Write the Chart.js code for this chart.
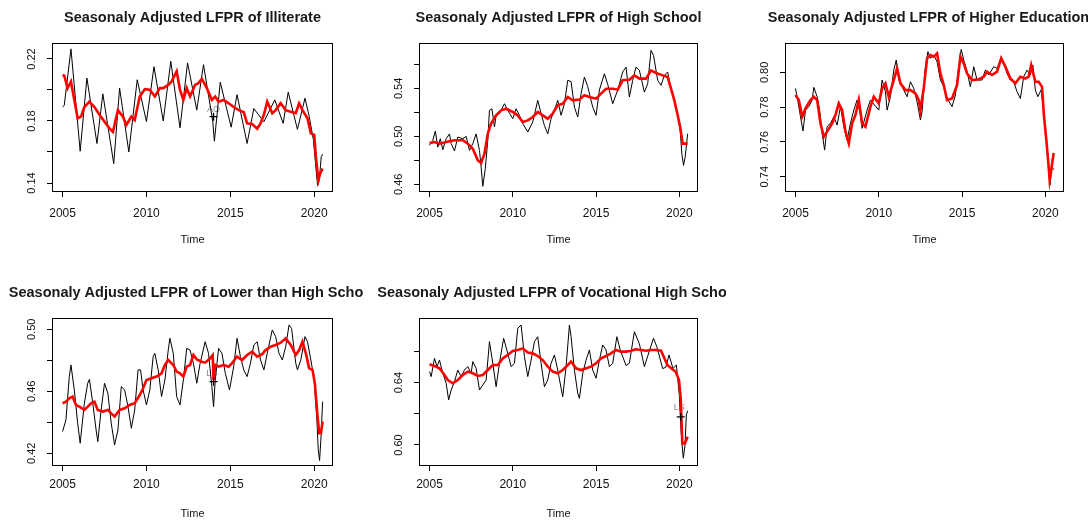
<!DOCTYPE html>
<html>
<head>
<meta charset="utf-8">
<script src="https://cdn.jsdelivr.net/npm/chart.js@4.4.0/dist/chart.umd.min.js"></script>
<style>
  html, body { margin: 0; padding: 0; background: #fff; }
  body { width: 1088px; height: 522px; position: relative; overflow: hidden; }
  .cell { position: absolute; overflow: hidden; }
</style>
</head>
<body>
<div class="cell" style="left:0;top:0;width:363px;height:261px"><canvas id="c1" width="363" height="261"></canvas></div>
<div class="cell" style="left:363px;top:0;width:363px;height:261px"><canvas id="c2" width="363" height="261"></canvas></div>
<div class="cell" style="left:726px;top:0;width:362px;height:261px"><canvas id="c3" width="362" height="261"></canvas></div>
<div class="cell" style="left:0;top:261px;width:363px;height:261px"><canvas id="c4" width="363" height="261"></canvas></div>
<div class="cell" style="left:363px;top:261px;width:363px;height:261px"><canvas id="c5" width="363" height="261"></canvas></div>

<script>
// ---- data: [time, value] ----
const yearTicks = [2005, 2010, 2015, 2020];

// Illiterate
const illitRaw = [[2005.0,0.189],[2005.1,0.190],[2005.5,0.2265],[2006.05,0.1605],[2006.45,0.2077],[2007.05,0.1655],[2007.4,0.1975],[2008.05,0.1525],[2008.4,0.2012],[2008.95,0.160],[2009.45,0.2066],[2010.0,0.1796],[2010.45,0.215],[2011.0,0.180],[2011.45,0.2185],[2012.0,0.1756],[2012.45,0.2175],[2013.0,0.187],[2013.4,0.2163],[2013.95,0.180],[2014.05,0.167],[2014.4,0.205],[2015.05,0.176],[2015.4,0.197],[2016.0,0.1655],[2016.4,0.188],[2017.0,0.1795],[2017.65,0.1936],[2018.15,0.1785],[2018.45,0.1986],[2019.0,0.1746],[2019.45,0.1947],[2019.7,0.183],[2019.95,0.168],[2020.1,0.150],[2020.2,0.1385],[2020.3,0.1417],[2020.42,0.157],[2020.5,0.1586]];
const illitAdj = [[2005.0,0.2098],[2005.1,0.2092],[2005.3,0.2012],[2005.5,0.2055],[2005.7,0.1936],[2005.9,0.1817],[2006.1,0.1828],[2006.3,0.189],[2006.6,0.1925],[2006.9,0.189],[2007.2,0.184],[2007.5,0.1796],[2007.8,0.1752],[2008.0,0.173],[2008.3,0.187],[2008.6,0.1828],[2008.8,0.1774],[2009.1,0.1828],[2009.3,0.1806],[2009.6,0.1958],[2009.9,0.2005],[2010.2,0.2001],[2010.5,0.1958],[2010.8,0.2012],[2011.0,0.2012],[2011.3,0.2033],[2011.5,0.2055],[2011.8,0.212],[2012.0,0.2001],[2012.2,0.1936],[2012.4,0.2012],[2012.6,0.1958],[2012.9,0.2033],[2013.1,0.2044],[2013.3,0.2072],[2013.6,0.2012],[2013.9,0.1936],[2014.1,0.1958],[2014.3,0.1925],[2014.6,0.1936],[2014.9,0.1914],[2015.2,0.189],[2015.5,0.187],[2015.8,0.1857],[2016.0,0.1785],[2016.3,0.178],[2016.6,0.175],[2016.8,0.1785],[2017.0,0.184],[2017.2,0.1925],[2017.5,0.185],[2017.7,0.187],[2018.0,0.1914],[2018.3,0.187],[2018.6,0.186],[2018.9,0.185],[2019.1,0.1914],[2019.3,0.187],[2019.6,0.1817],[2019.8,0.172],[2020.0,0.171],[2020.1,0.157],[2020.25,0.1417],[2020.35,0.146],[2020.5,0.1493]];
const illitYTicks = [0.14, 0.16, 0.18, 0.20, 0.22];
const illitYLabels = [0.14, 0.18, 0.22];
const illitOutlier = [[2014.0, 0.1828]];

// High School
const hsRaw = [[2005.0,0.4925],[2005.2,0.4967],[2005.35,0.5044],[2005.5,0.491],[2005.65,0.498],[2005.8,0.4889],[2006.0,0.498],[2006.2,0.502],[2006.3,0.494],[2006.5,0.4878],[2006.7,0.4994],[2007.0,0.498],[2007.2,0.500],[2007.4,0.4883],[2007.6,0.494],[2007.8,0.502],[2008.0,0.4883],[2008.1,0.4744],[2008.2,0.4583],[2008.35,0.473],[2008.5,0.4967],[2008.6,0.5217],[2008.75,0.523],[2008.9,0.5078],[2009.0,0.5175],[2009.2,0.519],[2009.5,0.5272],[2009.7,0.5217],[2010.0,0.5147],[2010.2,0.523],[2010.4,0.5175],[2010.6,0.5106],[2010.9,0.5036],[2011.2,0.512],[2011.5,0.530],[2011.7,0.519],[2011.9,0.509],[2012.1,0.502],[2012.3,0.5147],[2012.5,0.5217],[2012.7,0.530],[2012.9,0.5175],[2013.1,0.5272],[2013.3,0.5467],[2013.5,0.5456],[2013.7,0.5244],[2013.9,0.5161],[2014.1,0.5356],[2014.3,0.5494],[2014.5,0.5414],[2014.8,0.5244],[2015.0,0.5175],[2015.2,0.5386],[2015.5,0.5522],[2015.7,0.5433],[2016.0,0.5272],[2016.3,0.5386],[2016.6,0.5536],[2016.8,0.5578],[2017.0,0.5328],[2017.2,0.5467],[2017.4,0.5578],[2017.6,0.555],[2017.9,0.5369],[2018.1,0.5439],[2018.3,0.5717],[2018.45,0.5675],[2018.7,0.5467],[2018.9,0.5425],[2019.1,0.5508],[2019.3,0.5536],[2019.5,0.5386],[2019.7,0.530],[2019.9,0.519],[2020.05,0.505],[2020.15,0.4856],[2020.25,0.4758],[2020.35,0.4828],[2020.5,0.5022]];
const hsAdj = [[2005.0,0.4944],[2005.3,0.4953],[2005.6,0.4939],[2006.0,0.4953],[2006.5,0.4967],[2007.0,0.4967],[2007.3,0.4939],[2007.6,0.4897],[2007.9,0.480],[2008.1,0.4778],[2008.3,0.4856],[2008.5,0.5022],[2008.7,0.5106],[2009.0,0.5175],[2009.3,0.5217],[2009.6,0.523],[2010.0,0.5203],[2010.3,0.5175],[2010.6,0.512],[2010.9,0.5133],[2011.2,0.5161],[2011.5,0.5203],[2011.8,0.5175],[2012.1,0.5147],[2012.4,0.519],[2012.7,0.5258],[2013.0,0.5272],[2013.3,0.5328],[2013.6,0.530],[2014.0,0.5306],[2014.3,0.5342],[2014.6,0.5328],[2015.0,0.5314],[2015.3,0.5356],[2015.6,0.5397],[2016.0,0.5397],[2016.3,0.5389],[2016.6,0.5467],[2017.0,0.5472],[2017.3,0.5508],[2017.6,0.5481],[2018.0,0.5481],[2018.3,0.555],[2018.6,0.5528],[2019.0,0.5508],[2019.3,0.5494],[2019.5,0.5397],[2019.7,0.530],[2019.9,0.5175],[2020.05,0.5078],[2020.2,0.4939],[2020.5,0.4939]];
const hsYTicks = [0.46, 0.48, 0.50, 0.52, 0.54, 0.56];
const hsYLabels = [0.46, 0.50, 0.54];

// Higher Education
const heRaw = [[2005.0,0.7908],[2005.15,0.7831],[2005.3,0.7745],[2005.45,0.7663],[2005.6,0.7783],[2005.8,0.7803],[2006.0,0.7841],[2006.1,0.7914],[2006.3,0.786],[2006.45,0.7783],[2006.6,0.7649],[2006.75,0.7553],[2006.9,0.7688],[2007.1,0.7707],[2007.3,0.7745],[2007.5,0.7697],[2007.7,0.7803],[2007.9,0.7688],[2008.1,0.7611],[2008.3,0.7707],[2008.5,0.7783],[2008.7,0.7841],[2008.9,0.7755],[2009.0,0.7678],[2009.3,0.7783],[2009.5,0.7841],[2009.8,0.7806],[2010.0,0.7783],[2010.2,0.7956],[2010.4,0.7889],[2010.5,0.7783],[2010.7,0.786],[2010.9,0.8013],[2011.05,0.8071],[2011.2,0.7956],[2011.5,0.7898],[2011.7,0.786],[2011.9,0.7946],[2012.1,0.7908],[2012.3,0.7831],[2012.5,0.7726],[2012.6,0.7774],[2012.8,0.8033],[2012.95,0.8119],[2013.1,0.8081],[2013.3,0.810],[2013.5,0.8061],[2013.7,0.7956],[2013.9,0.7918],[2014.1,0.785],[2014.4,0.7803],[2014.6,0.787],[2014.8,0.8033],[2014.95,0.8132],[2015.1,0.8071],[2015.3,0.8004],[2015.5,0.7918],[2015.7,0.8033],[2015.9,0.7956],[2016.2,0.7956],[2016.4,0.8013],[2016.6,0.7985],[2016.9,0.8033],[2017.1,0.8023],[2017.35,0.8081],[2017.5,0.8052],[2017.7,0.7994],[2017.9,0.7956],[2018.1,0.7946],[2018.3,0.7889],[2018.5,0.785],[2018.7,0.7975],[2018.9,0.8013],[2019.1,0.7985],[2019.25,0.8042],[2019.4,0.7898],[2019.55,0.786],[2019.75,0.790],[2019.9,0.778],[2020.05,0.762],[2020.17,0.748],[2020.28,0.7352],[2020.38,0.746],[2020.5,0.744]];
const heAdj = [[2005.0,0.787],[2005.2,0.7841],[2005.4,0.7745],[2005.6,0.7793],[2005.9,0.7841],[2006.1,0.786],[2006.3,0.7841],[2006.5,0.7707],[2006.7,0.763],[2006.9,0.7659],[2007.2,0.7707],[2007.4,0.7755],[2007.6,0.7822],[2007.8,0.7783],[2008.0,0.7659],[2008.2,0.7592],[2008.4,0.7707],[2008.6,0.7755],[2008.8,0.7841],[2009.0,0.7707],[2009.2,0.7688],[2009.5,0.7803],[2009.7,0.786],[2010.0,0.7822],[2010.2,0.7908],[2010.4,0.7937],[2010.6,0.786],[2010.9,0.7956],[2011.1,0.8023],[2011.3,0.7937],[2011.6,0.7898],[2011.9,0.7898],[2012.2,0.7879],[2012.4,0.7841],[2012.5,0.7783],[2012.7,0.7908],[2012.9,0.8081],[2013.1,0.810],[2013.3,0.809],[2013.5,0.8109],[2013.7,0.7994],[2013.9,0.7927],[2014.1,0.7841],[2014.4,0.785],[2014.7,0.7927],[2014.9,0.809],[2015.1,0.8052],[2015.3,0.7994],[2015.6,0.7956],[2016.0,0.796],[2016.3,0.7975],[2016.5,0.8004],[2016.8,0.7985],[2017.1,0.8004],[2017.35,0.8081],[2017.6,0.8033],[2017.9,0.7965],[2018.2,0.7937],[2018.5,0.7975],[2018.8,0.7965],[2019.0,0.7975],[2019.15,0.8042],[2019.4,0.7946],[2019.6,0.7946],[2019.8,0.7917],[2019.92,0.7745],[2020.06,0.761],[2020.18,0.748],[2020.26,0.738],[2020.33,0.742],[2020.4,0.747],[2020.5,0.7536]];
const heYTicks = [0.74, 0.76, 0.78, 0.80];
const heYLabels = [0.74, 0.76, 0.78, 0.80];

// Lower than High School
const lhsRaw = [[2005.0,0.434],[2005.2,0.4415],[2005.4,0.4695],[2005.5,0.477],[2005.7,0.4609],[2005.9,0.4394],[2006.05,0.4265],[2006.3,0.4523],[2006.5,0.4652],[2006.6,0.4677],[2006.8,0.4523],[2007.0,0.435],[2007.1,0.4275],[2007.3,0.448],[2007.5,0.4652],[2007.7,0.4587],[2007.9,0.4394],[2008.1,0.4254],[2008.3,0.435],[2008.5,0.463],[2008.7,0.4609],[2008.9,0.4501],[2009.1,0.4361],[2009.3,0.448],[2009.5,0.4738],[2009.65,0.4738],[2009.8,0.4609],[2010.0,0.4512],[2010.2,0.4609],[2010.4,0.4824],[2010.5,0.4845],[2010.7,0.4738],[2010.9,0.4566],[2011.1,0.4673],[2011.3,0.4867],[2011.4,0.4942],[2011.6,0.4845],[2011.8,0.4566],[2012.0,0.4512],[2012.2,0.4673],[2012.4,0.4877],[2012.6,0.4866],[2012.8,0.4781],[2013.0,0.4652],[2013.2,0.4781],[2013.5,0.492],[2013.7,0.4845],[2013.9,0.463],[2014.0,0.4501],[2014.1,0.4673],[2014.3,0.4877],[2014.5,0.4845],[2014.7,0.4716],[2014.95,0.4609],[2015.2,0.4759],[2015.4,0.4942],[2015.6,0.4824],[2015.8,0.4738],[2016.0,0.4695],[2016.2,0.4781],[2016.4,0.4899],[2016.6,0.492],[2016.8,0.4802],[2017.0,0.4738],[2017.2,0.4845],[2017.5,0.4996],[2017.7,0.4953],[2017.9,0.4845],[2018.1,0.4802],[2018.3,0.4888],[2018.5,0.5028],[2018.65,0.5006],[2018.9,0.4781],[2019.0,0.4738],[2019.2,0.4802],[2019.45,0.4953],[2019.6,0.492],[2019.8,0.4802],[2020.0,0.4673],[2020.16,0.4415],[2020.24,0.4222],[2020.32,0.4153],[2020.42,0.433],[2020.5,0.4533]];
const lhsAdj = [[2005.0,0.4523],[2005.2,0.4533],[2005.4,0.4555],[2005.6,0.4566],[2005.8,0.4512],[2006.0,0.4501],[2006.3,0.448],[2006.5,0.4501],[2006.7,0.4523],[2006.9,0.4533],[2007.1,0.448],[2007.4,0.4469],[2007.7,0.448],[2007.9,0.4458],[2008.1,0.4437],[2008.4,0.448],[2008.7,0.449],[2009.0,0.4512],[2009.3,0.4523],[2009.6,0.4576],[2009.8,0.462],[2010.0,0.4673],[2010.3,0.4684],[2010.6,0.4695],[2010.9,0.4716],[2011.1,0.477],[2011.3,0.4802],[2011.6,0.477],[2011.8,0.4727],[2012.0,0.4716],[2012.2,0.4695],[2012.4,0.4759],[2012.6,0.477],[2012.8,0.4834],[2013.0,0.4806],[2013.3,0.4791],[2013.5,0.4785],[2013.8,0.4813],[2013.95,0.4834],[2014.0,0.4673],[2014.1,0.477],[2014.3,0.4759],[2014.6,0.477],[2014.9,0.4759],[2015.1,0.4781],[2015.4,0.4824],[2015.7,0.4802],[2016.0,0.4834],[2016.3,0.4856],[2016.6,0.4824],[2016.9,0.484],[2017.1,0.4866],[2017.4,0.4888],[2017.7,0.4899],[2018.0,0.4914],[2018.3,0.4942],[2018.6,0.4899],[2018.9,0.4834],[2019.1,0.4866],[2019.3,0.492],[2019.5,0.4845],[2019.7,0.4748],[2019.9,0.4738],[2020.04,0.465],[2020.2,0.4437],[2020.3,0.433],[2020.4,0.433],[2020.5,0.4405]];
const lhsYTicks = [0.42, 0.44, 0.46, 0.48, 0.50];
const lhsYLabels = [0.42, 0.46, 0.50];
const lhsShift = [[2014.0, 0.4662]];

// Vocational High School
const vhsRaw = [[2005.0,0.6471],[2005.1,0.6439],[2005.3,0.6556],[2005.45,0.6503],[2005.6,0.6545],[2005.8,0.646],[2006.0,0.6396],[2006.15,0.6289],[2006.3,0.6353],[2006.5,0.6406],[2006.7,0.6481],[2006.9,0.6439],[2007.1,0.6481],[2007.3,0.6503],[2007.5,0.646],[2007.6,0.6535],[2007.8,0.6492],[2008.0,0.6353],[2008.2,0.6385],[2008.4,0.6417],[2008.6,0.6663],[2008.8,0.6524],[2009.0,0.6374],[2009.2,0.6524],[2009.45,0.6685],[2009.7,0.6588],[2009.9,0.6503],[2010.1,0.6524],[2010.3,0.6749],[2010.5,0.677],[2010.7,0.6567],[2010.9,0.6439],[2011.1,0.6545],[2011.3,0.6663],[2011.5,0.6695],[2011.7,0.6524],[2011.9,0.6374],[2012.1,0.6417],[2012.3,0.6524],[2012.5,0.6578],[2012.7,0.6481],[2012.9,0.6364],[2013.0,0.631],[2013.2,0.6503],[2013.4,0.677],[2013.5,0.6695],[2013.7,0.6481],[2013.9,0.6332],[2014.0,0.6299],[2014.2,0.646],[2014.4,0.6545],[2014.6,0.661],[2014.8,0.6481],[2015.0,0.6428],[2015.2,0.6545],[2015.4,0.6642],[2015.6,0.661],[2015.8,0.6503],[2016.0,0.6524],[2016.25,0.6695],[2016.45,0.6610],[2016.8,0.651],[2017.0,0.6524],[2017.3,0.6727],[2017.6,0.6650],[2017.9,0.6503],[2018.1,0.6570],[2018.45,0.6685],[2018.65,0.6630],[2019.0,0.6490],[2019.2,0.6500],[2019.38,0.6578],[2019.62,0.649],[2019.82,0.6514],[2020.0,0.632],[2020.08,0.613],[2020.18,0.598],[2020.24,0.5915],[2020.34,0.600],[2020.42,0.6193],[2020.5,0.622]];
const vhsAdj = [[2005.0,0.6518],[2005.3,0.6507],[2005.6,0.6492],[2005.9,0.6449],[2006.1,0.6417],[2006.4,0.6396],[2006.7,0.6417],[2007.0,0.6449],[2007.3,0.6471],[2007.6,0.646],[2007.9,0.6443],[2008.2,0.6449],[2008.5,0.6481],[2008.8,0.6513],[2009.1,0.6513],[2009.4,0.6556],[2009.7,0.6578],[2010.0,0.6603],[2010.3,0.661],[2010.6,0.662],[2010.9,0.6593],[2011.2,0.6588],[2011.5,0.6571],[2011.8,0.6545],[2012.1,0.6503],[2012.4,0.6471],[2012.7,0.646],[2013.0,0.6481],[2013.3,0.6513],[2013.5,0.6535],[2013.8,0.6492],[2014.1,0.6481],[2014.4,0.6492],[2014.7,0.6503],[2015.0,0.6524],[2015.3,0.6556],[2015.6,0.6571],[2015.9,0.6588],[2016.2,0.661],[2016.5,0.6599],[2016.8,0.6599],[2017.1,0.6605],[2017.4,0.6614],[2017.7,0.661],[2018.0,0.6605],[2018.3,0.661],[2018.6,0.661],[2018.9,0.6605],[2019.28,0.6514],[2019.55,0.649],[2019.78,0.647],[2019.98,0.6417],[2020.08,0.630],[2020.14,0.6129],[2020.18,0.601],[2020.33,0.601],[2020.5,0.6053]];
const vhsYTicks = [0.60, 0.62, 0.64, 0.66];
const vhsYLabels = [0.60, 0.64];
const vhsShift = [[2020.08, 0.618]];

// ---- layout (pixels inside each cell) ----
const X_MIN = 2004.37, X_MAX = 2021.12;
const XAXIS_H = 55;
const FONT = '"Liberation Sans", Arial, Helvetica, sans-serif';

const panels = [
  { id: 'c1', title: 'Seasonaly Adjusted LFPR of Illiterate', raw: illitRaw, adj: illitAdj,
    yMin: 0.1342, yMax: 0.2303, yTicks: illitYTicks, yLabels: illitYLabels,
    marks: illitOutlier, notes: [{ x: 2014.0, y: 0.1872, text: 'AO' }],
    area: { left: 52, top: 43, right: 333, bottom: 192 }, tickPad: 9 },
  { id: 'c2', title: 'Seasonaly Adjusted LFPR of High School', raw: hsRaw, adj: hsAdj,
    yMin: 0.4536, yMax: 0.5778, yTicks: hsYTicks, yLabels: hsYLabels,
    marks: [], notes: [],
    area: { left: 56, top: 43, right: 335, bottom: 192 }, tickPad: 9 },
  { id: 'c3', title: 'Seasonaly Adjusted LFPR of Higher Education', raw: heRaw, adj: heAdj,
    yMin: 0.7312, yMax: 0.8169, yTicks: heYTicks, yLabels: heYLabels,
    marks: [], notes: [],
    area: { left: 59, top: 43, right: 338, bottom: 192 }, tickPad: 9 },
  { id: 'c4', title: 'Seasonaly Adjusted LFPR of Lower than High School', raw: lhsRaw, adj: lhsAdj,
    yMin: 0.4118, yMax: 0.5073, yTicks: lhsYTicks, yLabels: lhsYLabels,
    marks: lhsShift, notes: [{ x: 2013.9, y: 0.4712, text: 'LS' }],
    area: { left: 52, top: 57, right: 333, bottom: 205 }, tickPad: 6 },
  { id: 'c5', title: 'Seasonaly Adjusted LFPR of Vocational High School', raw: vhsRaw, adj: vhsAdj,
    yMin: 0.5865, yMax: 0.6815, yTicks: vhsYTicks, yLabels: vhsYLabels,
    marks: vhsShift, notes: [{ x: 2020.0, y: 0.6238, text: 'LS' }],
    area: { left: 56, top: 57, right: 335, bottom: 205 }, tickPad: 6 },
];

// R-like frame, main title and outlier notes
const rFrame = {
  id: 'rFrame',
  beforeDatasetsDraw(chart, args, opts) {
    const { ctx, chartArea: a, scales } = chart;
    ctx.save();
    ctx.strokeStyle = '#000';
    ctx.lineWidth = 1;
    ctx.strokeRect(a.left + 0.5, a.top + 0.5, a.right - a.left - 1, a.bottom - a.top - 1);
    ctx.font = '9px ' + FONT;
    ctx.fillStyle = '#8a8a8a';
    ctx.textAlign = 'center';
    ctx.textBaseline = 'middle';
    (opts.notes || []).forEach(n => {
      ctx.fillText(n.text, scales.x.getPixelForValue(n.x), scales.y.getPixelForValue(n.y));
    });
    ctx.restore();
  },
  afterDraw(chart, args, opts) {
    const { ctx, chartArea: a } = chart;
    ctx.save();
    ctx.font = 'bold 14.5px ' + FONT;
    ctx.fillStyle = '#1a1a1a';
    ctx.textAlign = 'center';
    ctx.textBaseline = 'middle';
    ctx.fillText(opts.title, (a.left + a.right) / 2 + (opts.shift || 0), a.top - 25);
    ctx.restore();
  }
};

const toXY = arr => arr.map(([x, y]) => ({ x, y }));

function axisGrid() {
  return { display: true, drawOnChartArea: false, drawTicks: true, tickLength: 5, color: '#000', tickColor: '#000', lineWidth: 1 };
}

function drawPanel(p) {
  const canvas = document.getElementById(p.id);
  const W = canvas.width, H = canvas.height;
  new Chart(canvas, {
    type: 'line',
    data: {
      datasets: [
        { data: toXY(p.marks), showLine: false, pointStyle: 'cross', pointRadius: 4,
          borderColor: '#000', borderWidth: 1.3 },
        { data: toXY(p.adj), borderColor: '#ff0000', borderWidth: 2.6, pointRadius: 0, tension: 0 },
        { data: toXY(p.raw), borderColor: '#000', borderWidth: 1, pointRadius: 0, tension: 0 },
      ]
    },
    options: {
      responsive: false,
      animation: false,
      events: [],
      layout: { padding: { left: 0, top: p.area.top, right: W - p.area.right, bottom: H - p.area.bottom - XAXIS_H } },
      plugins: {
        legend: { display: false },
        tooltip: { enabled: false },
        rFrame: { title: p.title, notes: p.notes, shift: p.id === 'c3' ? 4 : 0 }
      },
      scales: {
        x: {
          type: 'linear', min: X_MIN, max: X_MAX,
          afterBuildTicks: s => { s.ticks = yearTicks.map(v => ({ value: v })); },
          afterFit: s => { s.height = XAXIS_H; },
          grid: axisGrid(),
          border: { display: false },
          ticks: { autoSkip: false, maxRotation: 0, padding: p.tickPad, color: '#111',
                   font: { family: FONT, size: 12 }, callback: v => String(v) },
          title: { display: true, text: 'Time', color: '#111', font: { family: FONT, size: 11 },
                   padding: { top: 0, bottom: 0 } }
        },
        y: {
          type: 'linear', min: p.yMin, max: p.yMax,
          afterBuildTicks: s => { s.ticks = p.yTicks.map(v => ({ value: v })); },
          afterFit: s => { s.width = p.area.left; },
          grid: axisGrid(),
          border: { display: false },
          ticks: { autoSkip: false, minRotation: 90, maxRotation: 90, crossAlign: 'center', padding: 4,
                   color: '#111', font: { family: FONT, size: 11 },
                   callback: v => p.yLabels.includes(v) ? v.toFixed(2) : '' }
        }
      }
    },
    plugins: [rFrame]
  });
}

panels.forEach(drawPanel);
</script>
</body>
</html>
